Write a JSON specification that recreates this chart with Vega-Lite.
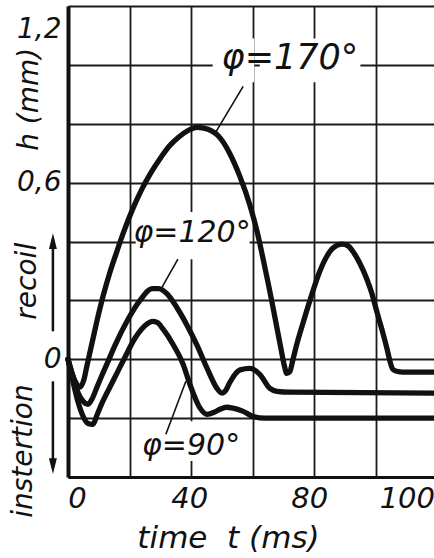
{
  "$schema": "https://vega.github.io/schema/vega-lite/v6.json",
  "width": 366,
  "height": 471,
  "autosize": {"type": "none"},
  "padding": {"left": 68, "top": 6, "right": 0, "bottom": 81},
  "background": "white",
  "config": {"view": {"stroke": null}, "font": "DejaVu Sans"},
  "encoding": {
    "x": {
      "field": "t", "type": "quantitative",
      "scale": {"domain": [0, 118.9], "nice": false, "zero": false},
      "axis": {
        "values": [0, 20, 40, 60, 80, 100],
        "labelExpr": "datum.value == 20 || datum.value == 60 ? '' : datum.label",
        "labelFont": "DejaVu Sans", "labelFontStyle": "italic", "labelFontSize": 29, "labelColor": "#111",
        "labelFlush": false, "labelOverlap": false, "labelPadding": 7,
        "labelOffset": {"condition": [{"test": "datum.value == 0", "value": 9}, {"test": "datum.value == 100", "value": 31}, {"test": "datum.value == 80", "value": -5}], "value": -2},
        "ticks": false,
        "domainColor": "#111", "domainWidth": 3,
        "grid": true, "gridColor": "#1a1a1a", "gridWidth": 1.8,
        "title": "time\u00a0\u00a0t (ms)",
        "titleFont": "DejaVu Sans", "titleFontStyle": "italic", "titleFontWeight": "normal", "titleFontSize": 31, "titleColor": "#111",
        "titleX": 160, "titleY": 70, "titleBaseline": "alphabetic", "titleAlign": "center"
      }
    },
    "y": {
      "field": "h", "type": "quantitative",
      "scale": {"domain": [-0.4, 1.2], "nice": false, "zero": false},
      "axis": {
        "values": [-0.4, -0.2, 0, 0.2, 0.4, 0.6, 0.8, 1.0, 1.2],
        "labelExpr": "abs(datum.value - 1.2) < 0.001 ? '1,2' : abs(datum.value - 0.6) < 0.001 ? '0,6' : abs(datum.value) < 0.001 ? '0' : ''",
        "labelFont": "DejaVu Sans", "labelFontStyle": "italic", "labelFontSize": 28, "labelColor": "#111",
        "labelFlush": false, "labelOverlap": false, "labelPadding": 7,
        "labelOffset": {"condition": {"test": "abs(datum.value - 1.2) < 0.001", "value": 23}, "value": 0},
        "ticks": false,
        "domainColor": "#111", "domainWidth": 4,
        "grid": true, "gridColor": "#1a1a1a", "gridWidth": 1.8,
        "title": null
      }
    }
  },
  "layer": [
    {
      "data": {"values": [
        {"t": 47.0, "t2": 60.5, "h": 0.941, "h2": 1.09},
        {"t": 62.3, "t2": 95.0, "h": 0.941, "h2": 1.09},
        {"t": 22.0, "t2": 59.0, "h": 0.34, "h2": 0.50},
        {"t": 22.0, "t2": 58.0, "h": -0.346, "h2": -0.211}
      ]},
      "mark": {"type": "rect", "color": "white"},
      "encoding": {"x2": {"field": "t2"}, "y2": {"field": "h2"}}
    },
    {
      "mark": {"type": "rule", "color": "#111", "strokeWidth": 5.5},
      "encoding": {"x": {"datum": 0, "type": "quantitative"}, "x2": {"datum": 118.9}, "y": {"datum": 0, "type": "quantitative"}}
    },
    {
      "data": {"values": [
        {"t": 56.9, "t2": 47.8, "h": 0.927, "h2": 0.768},
        {"t": 35.7, "t2": 30.2, "h": 0.340, "h2": 0.238},
        {"t": 31.8, "t2": 38.3, "h": -0.255, "h2": -0.075}
      ]},
      "mark": {"type": "rule", "color": "#111", "strokeWidth": 1.6},
      "encoding": {"x2": {"field": "t2"}, "y2": {"field": "h2"}}
    },
    {
      "data": {"values": [
        {"phi": "170", "t": 0, "h": 0},
        {"phi": "170", "t": 1.3, "h": -0.048},
        {"phi": "170", "t": 2.6, "h": -0.08},
        {"phi": "170", "t": 3.9, "h": -0.095},
        {"phi": "170", "t": 5.2, "h": -0.068},
        {"phi": "170", "t": 6.2, "h": -0.02},
        {"phi": "170", "t": 7.8, "h": 0.055},
        {"phi": "170", "t": 9.4, "h": 0.13},
        {"phi": "170", "t": 11.4, "h": 0.215},
        {"phi": "170", "t": 13.6, "h": 0.295},
        {"phi": "170", "t": 16.0, "h": 0.37},
        {"phi": "170", "t": 18.0, "h": 0.43},
        {"phi": "170", "t": 21.0, "h": 0.51},
        {"phi": "170", "t": 24.0, "h": 0.578},
        {"phi": "170", "t": 27.0, "h": 0.635},
        {"phi": "170", "t": 30.0, "h": 0.683},
        {"phi": "170", "t": 33.0, "h": 0.725},
        {"phi": "170", "t": 36.0, "h": 0.755},
        {"phi": "170", "t": 39.0, "h": 0.777},
        {"phi": "170", "t": 41.9, "h": 0.788},
        {"phi": "170", "t": 45.5, "h": 0.781},
        {"phi": "170", "t": 49.4, "h": 0.752},
        {"phi": "170", "t": 52.5, "h": 0.7},
        {"phi": "170", "t": 55.8, "h": 0.622},
        {"phi": "170", "t": 59.1, "h": 0.523},
        {"phi": "170", "t": 61.4, "h": 0.435},
        {"phi": "170", "t": 63.3, "h": 0.345},
        {"phi": "170", "t": 64.9, "h": 0.265},
        {"phi": "170", "t": 66.4, "h": 0.187},
        {"phi": "170", "t": 67.9, "h": 0.105},
        {"phi": "170", "t": 69.2, "h": 0.035},
        {"phi": "170", "t": 70.2, "h": -0.018},
        {"phi": "170", "t": 71.1, "h": -0.048},
        {"phi": "170", "t": 72.1, "h": -0.041},
        {"phi": "170", "t": 73.1, "h": 0},
        {"phi": "170", "t": 74.4, "h": 0.054},
        {"phi": "170", "t": 76.4, "h": 0.125},
        {"phi": "170", "t": 78.6, "h": 0.2},
        {"phi": "170", "t": 81.8, "h": 0.299},
        {"phi": "170", "t": 84.1, "h": 0.35},
        {"phi": "170", "t": 86.0, "h": 0.377},
        {"phi": "170", "t": 89.0, "h": 0.391},
        {"phi": "170", "t": 91.0, "h": 0.385},
        {"phi": "170", "t": 92.5, "h": 0.367},
        {"phi": "170", "t": 94.8, "h": 0.326},
        {"phi": "170", "t": 97.1, "h": 0.272},
        {"phi": "170", "t": 98.7, "h": 0.224},
        {"phi": "170", "t": 100.3, "h": 0.163},
        {"phi": "170", "t": 102.0, "h": 0.1},
        {"phi": "170", "t": 103.6, "h": 0.037},
        {"phi": "170", "t": 104.6, "h": -0.007},
        {"phi": "170", "t": 105.5, "h": -0.034},
        {"phi": "170", "t": 106.8, "h": -0.041},
        {"phi": "170", "t": 108.8, "h": -0.044},
        {"phi": "170", "t": 118.9, "h": -0.044},
        {"phi": "120", "t": 0, "h": 0},
        {"phi": "120", "t": 1.6, "h": -0.058},
        {"phi": "120", "t": 3.2, "h": -0.112},
        {"phi": "120", "t": 4.9, "h": -0.143},
        {"phi": "120", "t": 6.5, "h": -0.153},
        {"phi": "120", "t": 7.8, "h": -0.135},
        {"phi": "120", "t": 9.4, "h": -0.095},
        {"phi": "120", "t": 11.0, "h": -0.055},
        {"phi": "120", "t": 12.7, "h": -0.015},
        {"phi": "120", "t": 15.3, "h": 0.048},
        {"phi": "120", "t": 19.2, "h": 0.13},
        {"phi": "120", "t": 23.4, "h": 0.2},
        {"phi": "120", "t": 27.3, "h": 0.24},
        {"phi": "120", "t": 29.5, "h": 0.24},
        {"phi": "120", "t": 32.2, "h": 0.222},
        {"phi": "120", "t": 35.4, "h": 0.175},
        {"phi": "120", "t": 38.7, "h": 0.115},
        {"phi": "120", "t": 41.9, "h": 0.048},
        {"phi": "120", "t": 45.2, "h": -0.031},
        {"phi": "120", "t": 48.4, "h": -0.099},
        {"phi": "120", "t": 50.0, "h": -0.115},
        {"phi": "120", "t": 51.3, "h": -0.105},
        {"phi": "120", "t": 52.6, "h": -0.078},
        {"phi": "120", "t": 55.9, "h": -0.036},
        {"phi": "120", "t": 59.1, "h": -0.031},
        {"phi": "120", "t": 62.3, "h": -0.051},
        {"phi": "120", "t": 65.6, "h": -0.099},
        {"phi": "120", "t": 67.9, "h": -0.109},
        {"phi": "120", "t": 72.1, "h": -0.112},
        {"phi": "120", "t": 118.9, "h": -0.115},
        {"phi": "90", "t": 0, "h": 0},
        {"phi": "90", "t": 1.6, "h": -0.075},
        {"phi": "90", "t": 3.2, "h": -0.143},
        {"phi": "90", "t": 4.9, "h": -0.194},
        {"phi": "90", "t": 6.5, "h": -0.218},
        {"phi": "90", "t": 8.1, "h": -0.221},
        {"phi": "90", "t": 9.4, "h": -0.19},
        {"phi": "90", "t": 11.0, "h": -0.15},
        {"phi": "90", "t": 13.6, "h": -0.095},
        {"phi": "90", "t": 16.2, "h": -0.041},
        {"phi": "90", "t": 18.5, "h": 0.007},
        {"phi": "90", "t": 21.8, "h": 0.072},
        {"phi": "90", "t": 25.7, "h": 0.12},
        {"phi": "90", "t": 27.3, "h": 0.129},
        {"phi": "90", "t": 29.0, "h": 0.125},
        {"phi": "90", "t": 30.9, "h": 0.102},
        {"phi": "90", "t": 34.1, "h": 0.051},
        {"phi": "90", "t": 37.4, "h": -0.017},
        {"phi": "90", "t": 39.6, "h": -0.085},
        {"phi": "90", "t": 42.9, "h": -0.166},
        {"phi": "90", "t": 45.2, "h": -0.187},
        {"phi": "90", "t": 47.5, "h": -0.18},
        {"phi": "90", "t": 49.4, "h": -0.17},
        {"phi": "90", "t": 51.5, "h": -0.163},
        {"phi": "90", "t": 53.6, "h": -0.166},
        {"phi": "90", "t": 56.9, "h": -0.177},
        {"phi": "90", "t": 60.1, "h": -0.194},
        {"phi": "90", "t": 64.0, "h": -0.2},
        {"phi": "90", "t": 118.9, "h": -0.2}
      ]},
      "mark": {"type": "line", "interpolate": "monotone", "color": "#111", "strokeWidth": 5.3, "strokeJoin": "round", "strokeCap": "round"},
      "encoding": {"detail": {"field": "phi", "type": "nominal"}}
    },
    {
      "data": {"values": [
        {"label": "φ=170°", "t": 72.1, "h": 1.022},
        {"label": "φ=120°", "t": 40.3, "h": 0.428},
        {"label": "φ=90°", "t": 40.0, "h": -0.296}
      ]},
      "mark": {"type": "text", "font": "DejaVu Sans", "fontStyle": "italic", "color": "#111", "align": "center", "baseline": "middle"},
      "encoding": {
        "text": {"field": "label"},
        "size": {"condition": {"test": "datum.label == 'φ=170°'", "value": 35}, "value": 30}
      }
    },
    {
      "data": {"values": [
        {"label": "h (mm)", "t": -12.3, "h": 0.883},
        {"label": "recoil", "t": -13.0, "h": 0.265},
        {"label": "instertion", "t": -14.3, "h": -0.312}
      ]},
      "mark": {"type": "text", "font": "DejaVu Sans", "fontStyle": "italic", "fontSize": 28, "color": "#111", "align": "center", "baseline": "middle", "angle": 270},
      "encoding": {"text": {"field": "label"}}
    },
    {
      "data": {"values": [
        {"dir": "up", "t": -4.9, "h": 0.095, "h2": 0.41},
        {"dir": "down", "t": -4.9, "h": -0.075, "h2": -0.37}
      ]},
      "mark": {"type": "rule", "color": "#111", "strokeWidth": 2.5},
      "encoding": {"y2": {"field": "h2"}}
    },
    {
      "data": {"values": [
        {"dir": "up", "t": -4.9, "h": 0.401},
        {"dir": "down", "t": -4.9, "h": -0.363}
      ]},
      "mark": {"type": "point", "filled": true, "color": "#111", "opacity": 1, "size": 250},
      "encoding": {
        "shape": {"field": "dir", "type": "nominal", "scale": {"domain": ["up", "down"], "range": ["M-0.5,1L0,-1L0.5,1Z", "M-0.5,-1L0,1L0.5,-1Z"]}, "legend": null}
      }
    }
  ]
}
